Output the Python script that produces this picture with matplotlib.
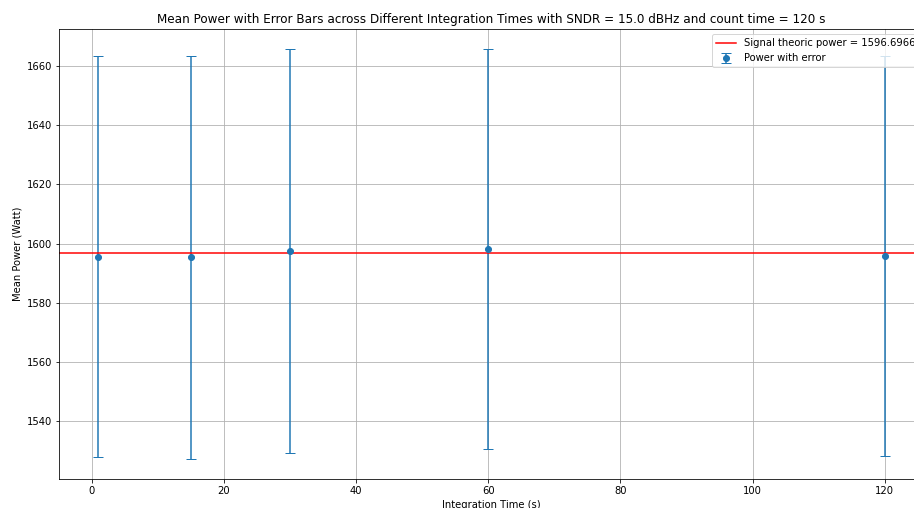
import matplotlib
matplotlib.use("Agg")
import matplotlib.pyplot as plt

# integration times (s) and measured mean power
int_times = [1, 15, 30, 60, 120]
mean_power = [1595.6, 1595.3, 1597.4, 1598.0, 1595.8]
power_err = [68.0, 68.1, 68.3, 67.7, 67.6]

theoric_power = 1596.6966
sndr = 15.0
count_time = 120

fig = plt.figure(figsize=(914/72, 508/72), dpi=72)
ax = fig.add_axes([59/914, 29/508, 865/914, 450/508])
ax.set_position([59/914, 1 - 479/508, 865/914, 450/508])

ax.errorbar(int_times, mean_power, yerr=power_err, fmt='o', capsize=5, label='Power with error')
ax.axhline(theoric_power, color='r', label='Signal theoric power = %.4f' % theoric_power)

ax.set_xlabel('Integration Time (s)')
ax.set_ylabel('Mean Power (Watt)')
ax.set_title('Mean Power with Error Bars across Different Integration Times with SNDR = %.1f dBHz and count time = %d s' % (sndr, count_time))
ax.legend(loc='upper right')
ax.grid()

fig.savefig('out.png', dpi=72)
